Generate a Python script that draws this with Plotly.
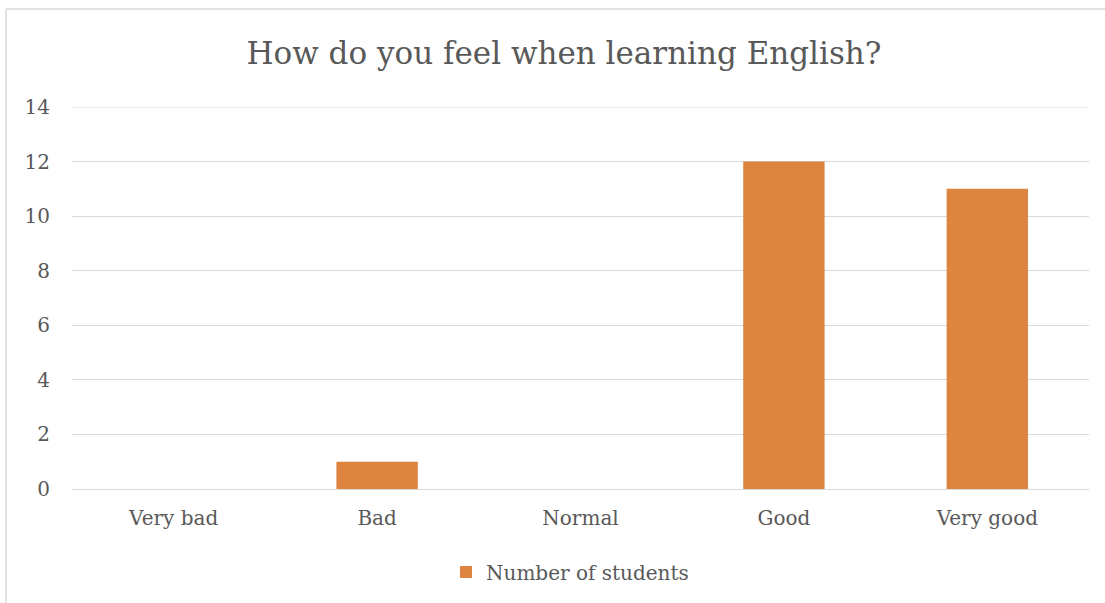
import plotly.graph_objects as go

categories = ["Very bad", "Bad", "Normal", "Good", "Very good"]
students = [0, 1, 0, 12, 11]
y_ticks = [0, 2, 4, 6, 8, 10, 12, 14]

FONT = "DejaVu Serif"
GREY = "#595959"
GRID = "#d9d9d9"

W, H = 1105, 603
L, R, T, B = 72, 16, 107, 114
pw = W - L - R
ph = H - T - B

def px_x(px):
    return (px - L) / pw

def px_y(py):
    return (H - B - py) / ph

fig = go.Figure()
fig.add_trace(go.Bar(
    x=categories, y=students, name="Number of students",
    marker=dict(color="#DD8540", line=dict(width=0)),
    showlegend=True,
))

fig.update_layout(
    width=W, height=H,
    margin=dict(l=L, r=R, t=T, b=B),
    paper_bgcolor="white", plot_bgcolor="white",
    bargap=0.6,
    title=dict(text="How do you feel when learning English?",
               font=dict(family=FONT, size=31, color=GREY),
               xref="container", x=564 / W, xanchor="center",
               y=1 - 53 / H, yanchor="middle"),
    font=dict(family=FONT, color=GREY),
    showlegend=True,
    legend=dict(orientation="h", x=px_x(570), xanchor="center",
                y=px_y(572), yanchor="middle",
                font=dict(family=FONT, size=20, color=GREY),
                itemwidth=30),
    xaxis=dict(showgrid=False, showline=False, ticks="",
               tickfont=dict(family=FONT, size=20, color=GREY),
               ticklabelstandoff=15),
    yaxis=dict(range=[0, y_ticks[-1]], tickvals=y_ticks, showgrid=True,
               gridcolor=GRID, gridwidth=1, zeroline=True,
               zerolinecolor=GRID, zerolinewidth=1, showline=False,
               ticks="", tickfont=dict(family=FONT, size=20, color=GREY),
               ticklabelstandoff=21),
    shapes=[
        dict(type="line", xref="paper", yref="y",
             x0=0, x1=1, y0=y_ticks[-1], y1=y_ticks[-1],
             line=dict(color=GRID, width=1)),
        dict(type="line", xref="paper", yref="paper",
             x0=px_x(6), x1=px_x(1120), y0=px_y(9), y1=px_y(9),
             line=dict(color=GRID, width=1.5)),
        dict(type="line", xref="paper", yref="paper",
             x0=px_x(6), x1=px_x(6), y0=px_y(9), y1=px_y(620),
             line=dict(color=GRID, width=1.5)),
    ],
)

fig.write_html("out.html",
               config={"displayModeBar": False},
               post_script="document.body.style.margin='0';document.body.style.overflow='hidden';")
